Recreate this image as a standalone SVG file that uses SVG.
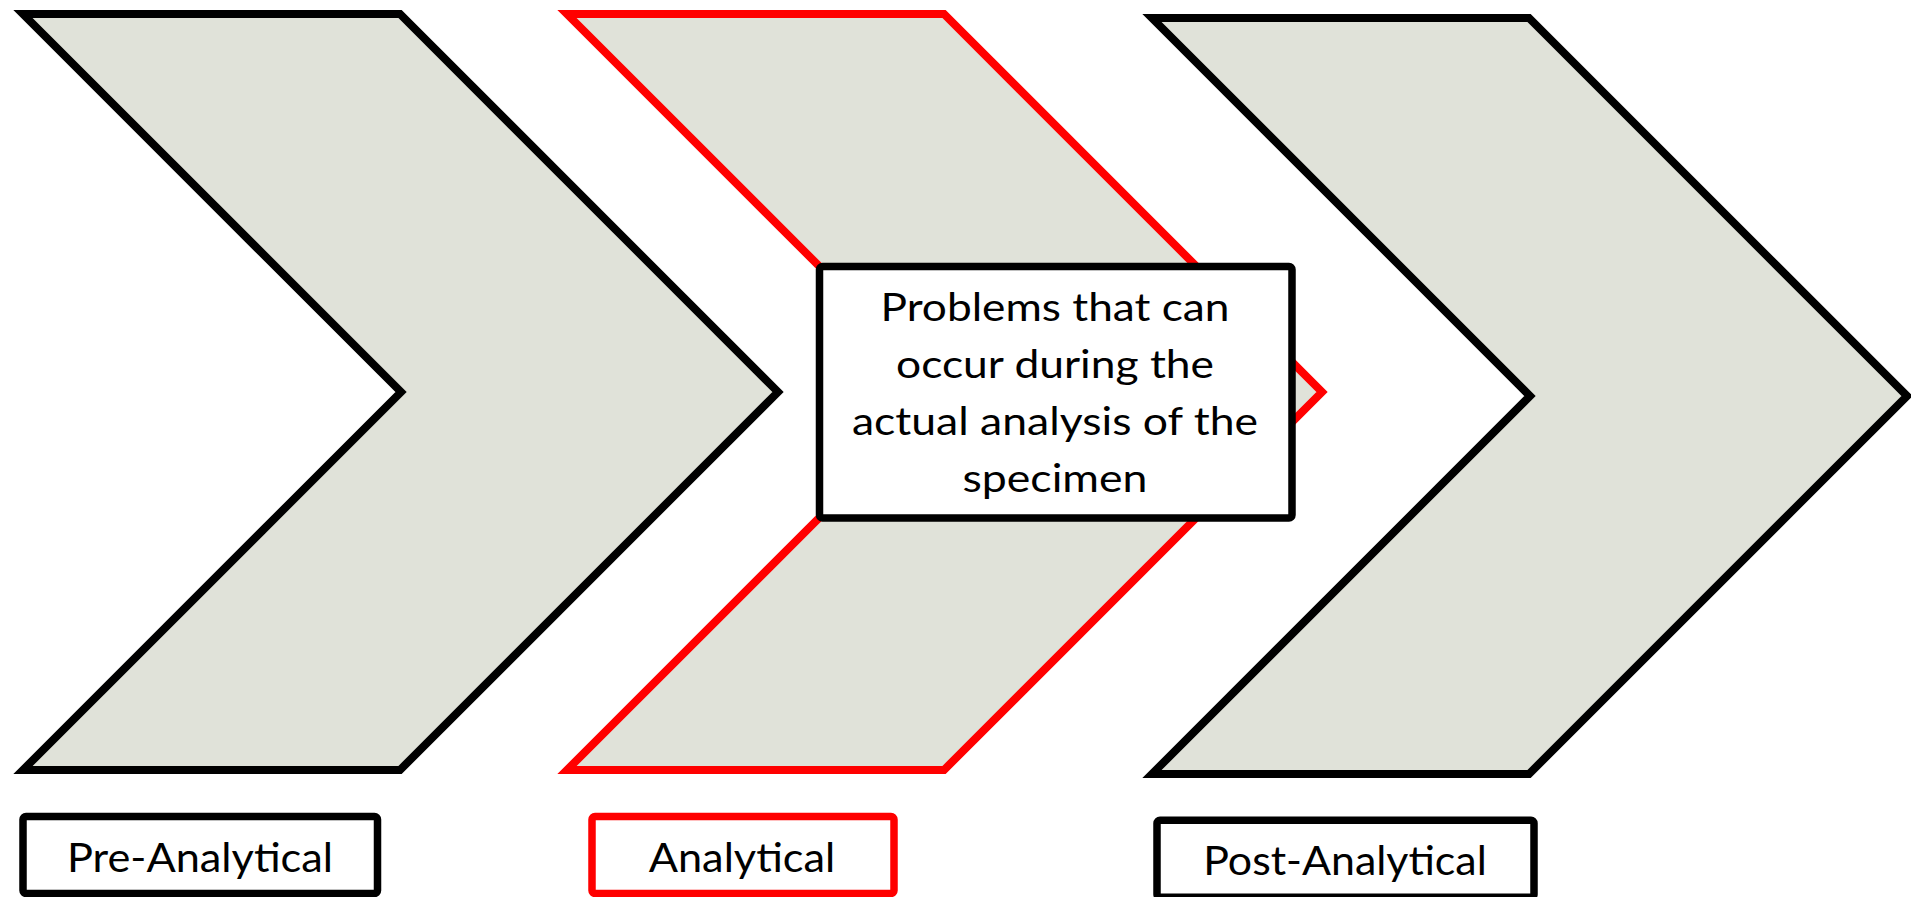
<svg xmlns="http://www.w3.org/2000/svg" width="1911" height="897" viewBox="0 0 1911 897">
<style>
.chev{fill:#E0E2D9;stroke-width:8;stroke-linejoin:miter;stroke-miterlimit:10}
.blk{stroke:#000000}
.red{stroke:#FF0000}
.box{fill:#FFFFFF;stroke-width:7.5}
.t{font-family:Lato,"Liberation Sans",sans-serif;fill:#000000;text-anchor:middle}
.tc{font-size:38px}
.tl{font-size:41px}
</style>
<rect width="1911" height="897" fill="#FFFFFF"/>
<g id="chevron-pre">
<polygon class="chev blk" points="23,14 400,14 778,392 400,770 23,770 401,392"/>
</g>
<g id="chevron-analytical">
<polygon class="chev red" points="567,14 944,14 1322,392 944,770 567,770 945,392"/>
</g>
<g id="chevron-post">
<polygon class="chev blk" points="1152,18 1529,18 1907,396 1529,774 1152,774 1530,396"/>
</g>
<g id="callout">
<rect class="box blk" x="819.5" y="266.5" width="472.5" height="251.5" rx="3"/>
<text class="t tc" x="1055" y="320.7" textLength="349" lengthAdjust="spacingAndGlyphs">Problems that can</text>
<text class="t tc" x="1055" y="377.7" textLength="318" lengthAdjust="spacingAndGlyphs">occur during the</text>
<text class="t tc" x="1055" y="434.7" textLength="406" lengthAdjust="spacingAndGlyphs">actual analysis of the</text>
<text class="t tc" x="1055" y="491.7" textLength="185" lengthAdjust="spacingAndGlyphs">specimen</text>
</g>
<g id="label-pre">
<rect class="box blk" x="23" y="816.5" width="354.5" height="77" rx="3"/>
<text class="t tl" x="200" y="871.7" textLength="266" lengthAdjust="spacingAndGlyphs">Pre-Analytical</text>
</g>
<g id="label-analytical">
<rect class="box red" x="592" y="816.5" width="302" height="77" rx="3"/>
<text class="t tl" x="742" y="871.7" textLength="186.5" lengthAdjust="spacingAndGlyphs">Analytical</text>
</g>
<g id="label-post">
<rect class="box blk" x="1157" y="820.3" width="377" height="77" rx="3"/>
<text class="t tl" x="1345" y="875" textLength="283.6" lengthAdjust="spacingAndGlyphs">Post-Analytical</text>
</g>
<g id="connectors"></g>
</svg>
